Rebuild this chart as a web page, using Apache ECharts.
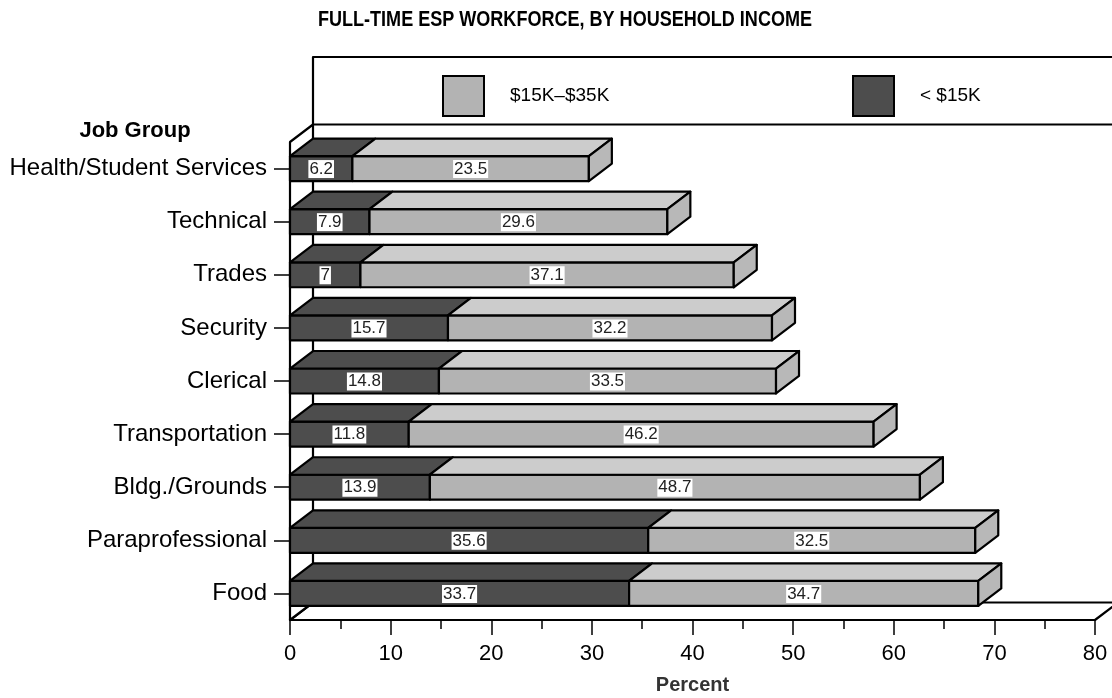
<!DOCTYPE html>
<html><head><meta charset="utf-8">
<script src="https://cdn.jsdelivr.net/npm/echarts@6/dist/echarts.min.js"></script>
<style>html,body{margin:0;padding:0;background:#fff}#c{width:1112px;height:698px}</style>
</head><body><div id="c"></div>
<script>
// ---- data ----
const categories = ['Health/Student Services','Technical','Trades','Security','Clerical','Transportation','Bldg./Grounds','Paraprofessional','Food'];
const under15K = [6.2, 7.9, 7, 15.7, 14.8, 11.8, 13.9, 35.6, 33.7];
const from15to35K = [23.5, 29.6, 37.1, 32.2, 33.5, 46.2, 48.7, 32.5, 34.7];
const seriesNames = ['< $15K', '$15K\u2013$35K'];
const xMin = 0, xMax = 80, xInterval = 10;
const titleText = 'FULL-TIME ESP WORKFORCE, BY HOUSEHOLD INCOME';

// ---- style ----
const DX = 23, DY = 17.5, BAR_FRAC = 0.47;
const DARK = '#4d4d4d', DARK_TOP = '#4d4d4d', LIGHT = '#b3b3b3', LIGHT_TOP = '#cccccc', LIGHT_SIDE = '#b8b8b8';
const LW = 2.2;
const FONT = '"Liberation Sans", Arial, sans-serif';

const darkData = categories.map((c, i) => [0, under15K[i], i, under15K[i]]);
const lightData = categories.map((c, i) => [under15K[i], under15K[i] + from15to35K[i], i, from15to35K[i]]);

function makeBox(front, top, side, withSide) {
  return function (params, api) {
    const x0 = api.value(0), x1 = api.value(1), ci = api.value(2), v = api.value(3);
    const p0 = api.coord([x0, ci]);
    const p1 = api.coord([x1, ci]);
    const h = api.size([0, 1])[1] * BAR_FRAC;
    const yT = p0[1] - h / 2, yB = p0[1] + h / 2;
    const st = (fill) => ({ fill: fill, stroke: '#000', lineWidth: LW, lineJoin: 'round' });
    const children = [
      { type: 'polygon', shape: { points: [[p0[0], yT], [p1[0], yT], [p1[0], yB], [p0[0], yB]] }, style: st(front) },
      { type: 'polygon', shape: { points: [[p0[0], yT], [p1[0], yT], [p1[0] + DX, yT - DY], [p0[0] + DX, yT - DY]] }, style: st(top) }
    ];
    if (withSide) {
      children.push({ type: 'polygon', shape: { points: [[p1[0], yT], [p1[0] + DX, yT - DY], [p1[0] + DX, yB - DY], [p1[0], yB]] }, style: st(side) });
    }
    children.push({ type: 'text', style: {
      text: String(v), x: (p0[0] + p1[0]) / 2, y: p0[1] + 0.5, align: 'center', verticalAlign: 'middle',
      fill: '#222', font: '17px ' + FONT, backgroundColor: '#fff', padding: [1, 1, 0, 1]
    } });
    return { type: 'group', children: children };
  };
}

function renderWalls(params, api) {
  const g = params.coordSys;
  const gx = g.x, gy = g.y, gw = g.width, gh = g.height;
  const st = { fill: '#fff', stroke: '#000', lineWidth: LW, lineJoin: 'round' };
  return { type: 'group', children: [
    { type: 'rect', shape: { x: gx + DX, y: 57, width: gw + 200, height: gy - DY - 57 }, style: st },
    { type: 'polygon', shape: { points: [[gx, gy + gh], [gx + gw, gy + gh], [gx + gw + DX, gy + gh - DY], [gx + DX, gy + gh - DY]] }, style: st },
    { type: 'polygon', shape: { points: [[gx, gy], [gx + DX, gy - DY], [gx + DX, gy + gh - DY], [gx, gy + gh]] }, style: st }
  ] };
}

// condense title to reference width
const mctx = document.createElement('canvas').getContext('2d');
mctx.font = 'bold 22px ' + FONT;
const titleScale = 494 / mctx.measureText(titleText).width;

const chart = echarts.init(document.getElementById('c'), null, { renderer: 'canvas' });
chart.setOption({
  animation: false,
  backgroundColor: '#fff',
  grid: { left: 290, right: 17, top: 142, bottom: 78, containLabel: false, outerBoundsMode: 'none' },
  xAxis: {
    type: 'value', min: xMin, max: xMax, interval: xInterval,
    axisLine: { show: false },
    axisTick: { show: true, length: 15, lineStyle: { color: '#000', width: 1.5 } },
    minorTick: { show: true, splitNumber: 2, length: 9, lineStyle: { color: '#000', width: 1.5 } },
    splitLine: { show: false },
    axisLabel: { color: '#000', fontFamily: FONT, fontSize: 22, margin: 23 },
    name: 'Percent', nameLocation: 'middle', nameGap: 55,
    nameTextStyle: { color: '#333', fontFamily: FONT, fontWeight: 'bold', fontSize: 20 }
  },
  yAxis: {
    type: 'category', data: categories, inverse: true,
    axisLine: { show: false },
    axisTick: { show: true, alignWithLabel: true, length: 16, lineStyle: { color: '#000', width: 1.5 } },
    axisLabel: { color: '#000', fontFamily: FONT, fontSize: 24, margin: 23 },
    splitLine: { show: false }
  },
  legend: [
    { data: [{ name: seriesNames[1], icon: 'rect', itemStyle: { color: LIGHT, borderColor: '#000', borderWidth: 2 } }],
      left: 437, top: 70, itemWidth: 41, itemHeight: 40, selectedMode: false,
      textStyle: { color: '#000', fontFamily: FONT, fontSize: 19, padding: [0, 0, 0, 21] } },
    { data: [{ name: seriesNames[0], icon: 'rect', itemStyle: { color: DARK, borderColor: '#000', borderWidth: 2 } }],
      left: 847, top: 70, itemWidth: 41, itemHeight: 40, selectedMode: false,
      textStyle: { color: '#000', fontFamily: FONT, fontSize: 19, padding: [0, 0, 0, 21] } }
  ],
  graphic: [
    { type: 'text', x: 565, y: 20, scaleX: titleScale, style: { text: titleText, align: 'center', verticalAlign: 'middle', fill: '#000', font: 'bold 22px ' + FONT } },
    { type: 'text', x: 135, y: 131, style: { text: 'Job Group', align: 'center', verticalAlign: 'middle', fill: '#000', font: 'bold 22px ' + FONT } }
  ],
  series: [
    { type: 'custom', name: 'walls', data: [[0, 0]], encode: { x: 0, y: 1 }, renderItem: renderWalls, z: 1, silent: true },
    { type: 'custom', name: seriesNames[0], data: darkData, encode: { x: [0, 1], y: 2 }, renderItem: makeBox(DARK, DARK_TOP, DARK, false), itemStyle: { color: DARK }, z: 3 },
    { type: 'custom', name: seriesNames[1], data: lightData, encode: { x: [0, 1], y: 2 }, renderItem: makeBox(LIGHT, LIGHT_TOP, LIGHT_SIDE, true), itemStyle: { color: LIGHT }, z: 4 }
  ]
});
</script>
</body></html>
